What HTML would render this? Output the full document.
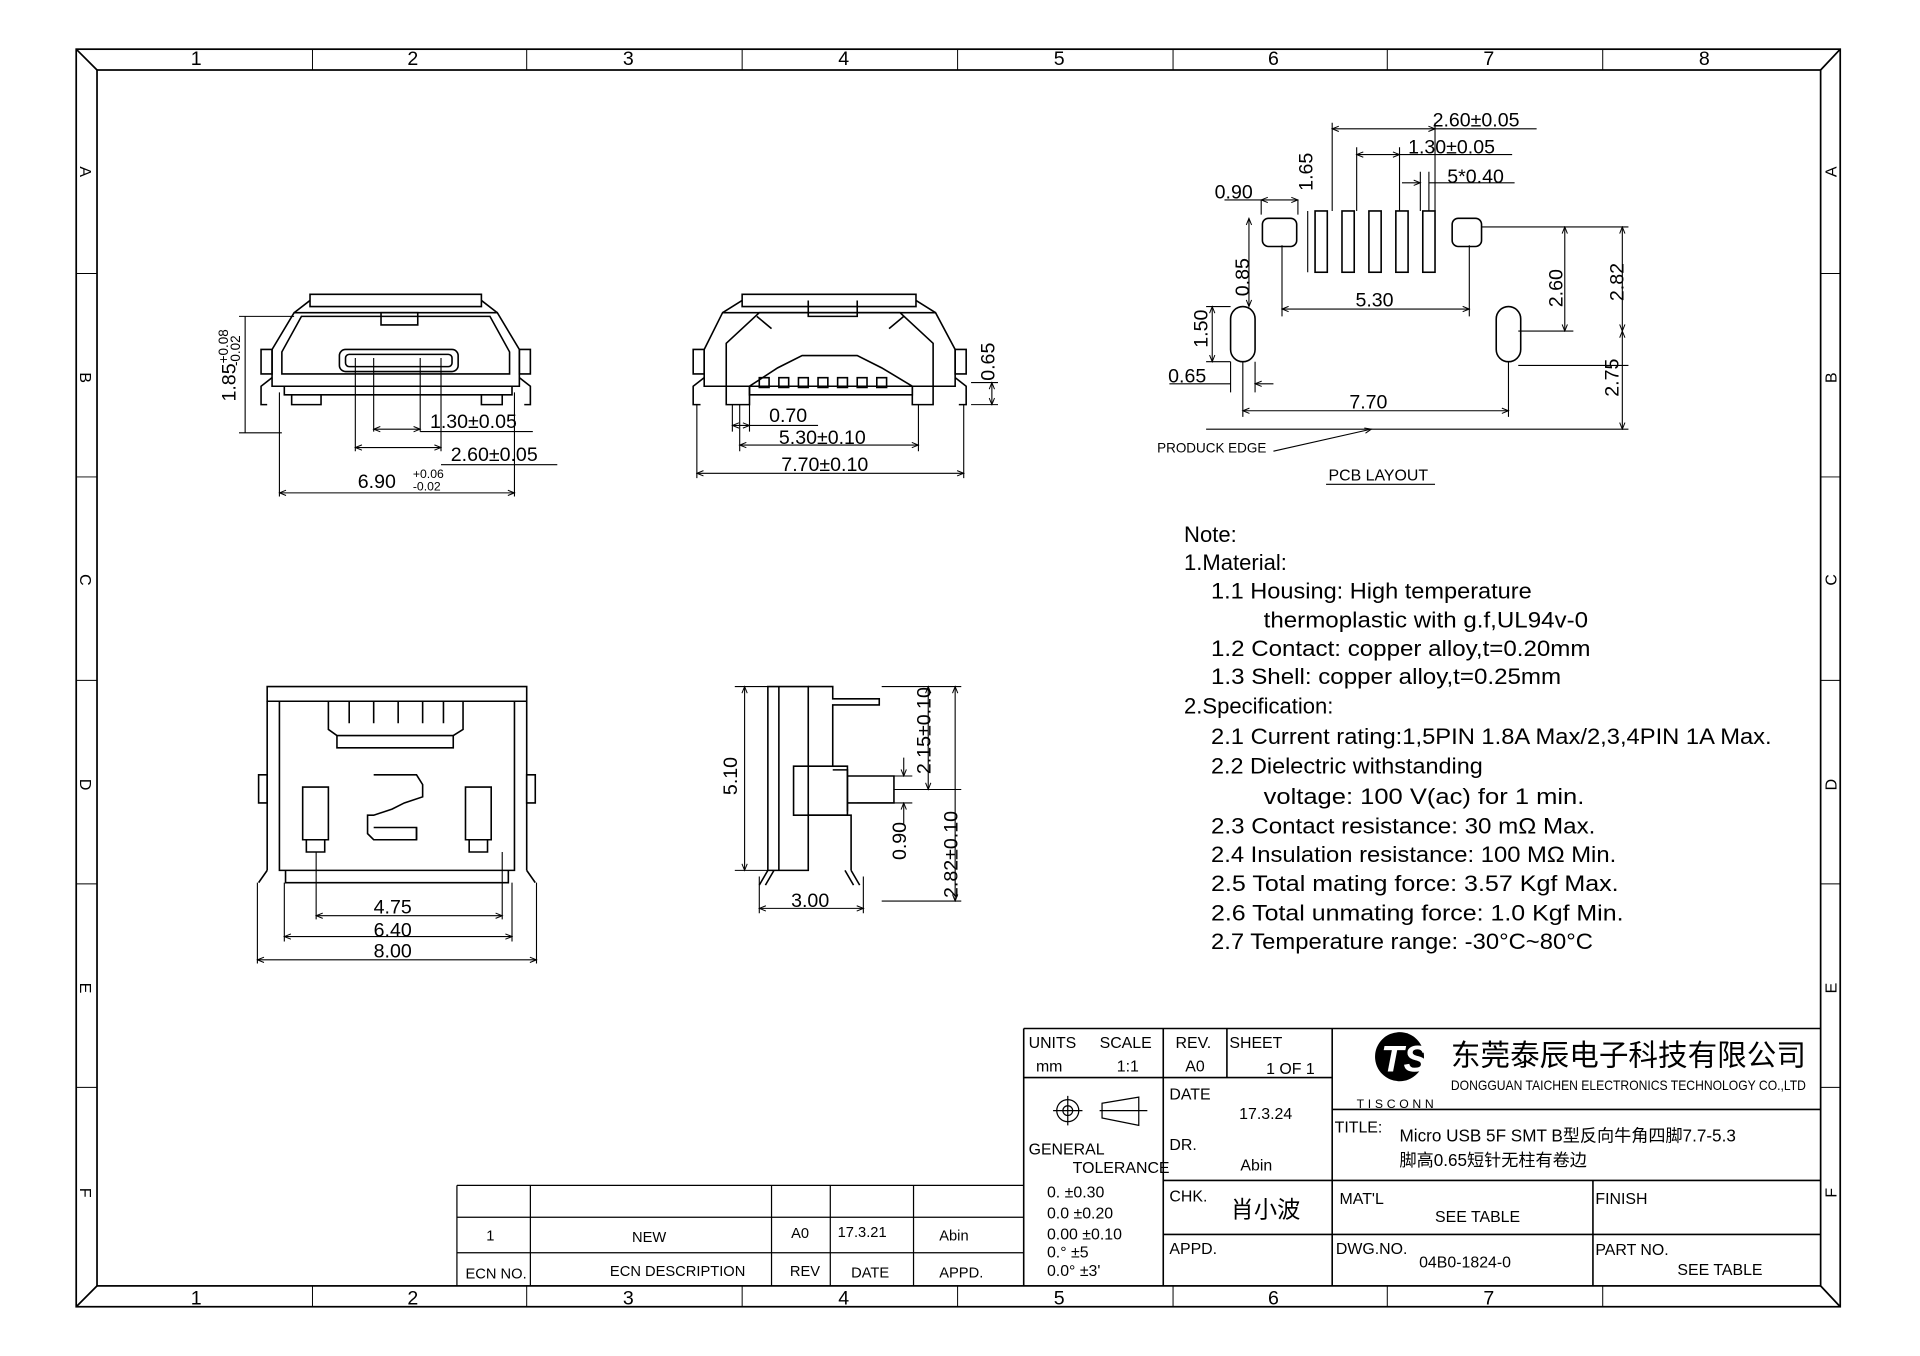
<!DOCTYPE html>
<html><head><meta charset="utf-8"><style>
html,body{margin:0;padding:0;background:#fff}
svg{display:block}
text{font-family:"Liberation Sans","Noto Sans CJK SC",sans-serif;fill:#000}
.t{font-size:16px}
.n{font-size:18px}
.s{font-size:13px}
</style></head><body>
<svg width="1920" height="1356" viewBox="0 0 1562 1103" preserveAspectRatio="none" xmlns="http://www.w3.org/2000/svg">
<defs>
<marker id="a" viewBox="0 0 10 10" refX="10" refY="5" markerWidth="8" markerHeight="6" orient="auto-start-reverse"><path d="M0,1L10,5L0,9" fill="none" stroke="#000" stroke-width="1.5"/></marker>
</defs>
<g transform="translate(62,40) scale(0.9959,0.997) translate(-62,-40)">
<g fill="none" stroke="#000" stroke-width="1.4">
<rect x="62" y="40" width="1441" height="1026"/>
<rect x="79" y="57" width="1408" height="992"/>
<path d="M62,40L79,57M1503,40L1487,57M62,1066L79,1049M1503,1066L1487,1049"/>
</g>
<g stroke="#000" stroke-width="0.8">
<path d="M255,40V57M430,40V57M606,40V57M782,40V57M958,40V57M1133,40V57M1309,40V57"/>
<path d="M255,1049V1066M430,1049V1066M606,1049V1066M782,1049V1066M958,1049V1066M1133,1049V1066M1309,1049V1066"/>
<path d="M62,223H79M62,389H79M62,555H79M62,721H79M62,887H79M1487,223H1503M1487,389H1503M1487,555H1503M1487,721H1503M1487,887H1503"/>
</g>
<g class="t" text-anchor="middle">
<text x="160" y="53">1</text><text x="337" y="53">2</text><text x="513" y="53">3</text><text x="689" y="53">4</text><text x="865" y="53">5</text><text x="1040" y="53">6</text><text x="1216" y="53">7</text><text x="1392" y="53">8</text>
<text x="160" y="1064">1</text><text x="337" y="1064">2</text><text x="513" y="1064">3</text><text x="689" y="1064">4</text><text x="865" y="1064">5</text><text x="1040" y="1064">6</text><text x="1216" y="1064">7</text>
</g>
<g class="s" text-anchor="middle">
<text x="70" y="145" transform="rotate(90 70 140)">A</text><text x="70" y="313" transform="rotate(90 70 308)">B</text><text x="70" y="478" transform="rotate(90 70 473)">C</text><text x="70" y="645" transform="rotate(90 70 640)">D</text><text x="70" y="811" transform="rotate(90 70 806)">E</text><text x="70" y="978" transform="rotate(90 70 973)">F</text>
<text x="1495" y="145" transform="rotate(-90 1495 140)">A</text><text x="1495" y="313" transform="rotate(-90 1495 308)">B</text><text x="1495" y="478" transform="rotate(-90 1495 473)">C</text><text x="1495" y="645" transform="rotate(-90 1495 640)">D</text><text x="1495" y="811" transform="rotate(-90 1495 806)">E</text><text x="1495" y="978" transform="rotate(-90 1495 973)">F</text>
</g>

<!-- Front view 1 -->
<g fill="none" stroke="#000" stroke-width="1.3">
<path d="M253,240H393V250H253Z"/>
<path d="M240,255L253,245M406,255L393,245"/>
<path d="M240,255L222,285V315H424V285L406,255Z"/>
<path d="M246,258L230,287V305H416V287L400,258Z"/>
<path d="M213,285H222V305H213ZM424,285H433V305H424Z"/>
<path d="M232,315V322H418V315M238,322V330H262V322M393,322V330H410V322"/>
<path d="M222,308L213,315V330H218M424,308L433,315V330H428"/>
<rect x="277" y="285" width="97" height="18" rx="5"/>
<rect x="282" y="289" width="87" height="10" rx="3"/>
<path d="M311,255H341V265H311Z"/>
</g>
<g fill="none" stroke="#000" stroke-width="0.9">
<path d="M195,258H240M195,353H230M200,258V353M228,320V405M420,320V405M290,292V368M360,292V368M305,292V352M343,292V352"/>
<path d="M228,402H420" marker-start="url(#a)" marker-end="url(#a)"/>
<path d="M290,365H360" marker-start="url(#a)" marker-end="url(#a)"/>
<path d="M360,379H455"/>
<path d="M305,350H343" marker-start="url(#a)" marker-end="url(#a)"/>
<path d="M343,352H435"/>
</g>
<text class="t" x="200" y="306" transform="rotate(-90 192 306)" text-anchor="middle">1.85<tspan font-size="11" dy="-6">+0.08</tspan><tspan font-size="11" dx="-30" dy="10">-0.02</tspan></text>
<text class="t" x="292" y="398">6.90</text><text x="337" y="390" font-size="10">+0.06</text><text x="337" y="400" font-size="10">-0.02</text>
<text class="t" x="351" y="349">1.30±0.05</text>
<text class="t" x="368" y="376">2.60±0.05</text>

<!-- Front view 2 -->
<g fill="none" stroke="#000" stroke-width="1.3">
<path d="M606,240H748V250H606Z"/>
<path d="M590,255L606,245M764,255L748,245"/>
<path d="M590,255L575,285V315H780V285L764,255Z"/>
<path d="M566,285H575V305H566ZM780,285H789V305H780Z"/>
<path d="M593,280L620,255H735L762,280V330H745V315L720,300L700,290H655L635,300L612,315V330H593Z"/>
<path d="M612,315H745V322H612Z"/>
<path d="M660,245V258H700V245"/>
<path d="M618,258L630,268M738,258L726,268"/>
<path d="M575,308L566,315V330H572M780,308L789,315V330H783"/>
<path d="M620,308h8v8h-8zM636,308h8v8h-8zM652,308h8v8h-8zM668,308h8v8h-8zM684,308h8v8h-8zM700,308h8v8h-8zM716,308h8v8h-8z"/>
</g>
<g fill="none" stroke="#000" stroke-width="0.9">
<path d="M569,330V390M787,330V390M598,330V352M612,330V352M604,330V368M750,330V368M793,312H815M793,330H815"/>
<path d="M569,386H787" marker-start="url(#a)" marker-end="url(#a)"/>
<path d="M604,363H750" marker-start="url(#a)" marker-end="url(#a)"/>
<path d="M598,347H612" marker-start="url(#a)" marker-end="url(#a)"/><path d="M612,347H668"/>
<path d="M810,312V330" marker-start="url(#a)" marker-end="url(#a)"/>
</g>
<text class="t" x="628" y="344">0.70</text>
<text class="t" x="636" y="362">5.30±0.10</text>
<text class="t" x="638" y="384">7.70±0.10</text>
<text class="t" x="812" y="295" transform="rotate(-90 812 295)" text-anchor="middle">0.65</text>

<!-- Bottom view -->
<g fill="none" stroke="#000" stroke-width="1.3">
<path d="M218,560H430V572H218Z"/>
<path d="M228,572V710H420V572"/>
<path d="M218,572V710M430,572V710"/>
<path d="M211,632H218V655H211ZM430,632H437V655H430Z"/>
<path d="M268,572V595L275,600H370L378,595V572"/>
<path d="M285,572V590M305,572V590M325,572V590M345,572V590M362,572V590"/>
<path d="M275,600V610H370V600"/>
<path d="M247,642H268V685H247ZM380,642H401V685H380Z"/>
<path d="M250,685V695H265V685M383,685V695H398V685"/>
<path d="M305,632H340L345,640V650L330,655L320,660L305,665H300V680L305,685H340V675"/>
<path d="M305,675H340V685"/>
<path d="M233,710V720H415V710M218,710L211,720M430,710L437,720"/>
</g>
<g fill="none" stroke="#000" stroke-width="0.9">
<path d="M210,720V786M438,720V786M232,720V768M418,720V768M258,695V750M410,695V750"/>
<path d="M258,747H410" marker-start="url(#a)" marker-end="url(#a)"/>
<path d="M232,764H418" marker-start="url(#a)" marker-end="url(#a)"/>
<path d="M210,783H438" marker-start="url(#a)" marker-end="url(#a)"/>
</g>
<text class="t" x="305" y="745">4.75</text><text class="t" x="305" y="764">6.40</text><text class="t" x="305" y="781">8.00</text>

<!-- Side view -->
<g fill="none" stroke="#000" stroke-width="1.3">
<path d="M627,560H660V710H627Z"/>
<path d="M660,560H680V570H718V575H680V625"/>
<path d="M648,625H692V665H648Z"/>
<path d="M680,628H692V662M692,633H730V655H692"/>
<path d="M660,665H695V710"/>
<path d="M627,710L620,722M695,710L702,722M632,710L625,722M690,710L697,722"/>
<path d="M636,560V710"/>
</g>
<g fill="none" stroke="#000" stroke-width="0.9">
<path d="M600,560H627M600,710H627M620,715V745M705,715V745M720,560H785M730,644H785M720,735H785M700,633H745M700,655H745"/>
<path d="M608,560V710" marker-start="url(#a)" marker-end="url(#a)"/>
<path d="M758,560V644" marker-start="url(#a)" marker-end="url(#a)"/>
<path d="M780,560V735" marker-start="url(#a)" marker-end="url(#a)"/>
<path d="M738,618V633" marker-end="url(#a)"/><path d="M738,672V655" marker-end="url(#a)"/>
<path d="M620,741H705" marker-start="url(#a)" marker-end="url(#a)"/>
</g>
<text class="t" x="602" y="633" transform="rotate(-90 602 633)" text-anchor="middle">5.10</text>
<text class="t" x="760" y="596" transform="rotate(-90 760 596)" text-anchor="middle">2.15±0.10</text>
<text class="t" x="740" y="686" transform="rotate(-90 740 686)" text-anchor="middle">0.90</text>
<text class="t" x="782" y="697" transform="rotate(-90 782 697)" text-anchor="middle">2.82±0.10</text>
<text class="t" x="646" y="740">3.00</text>

<!-- PCB layout -->
<g fill="none" stroke="#000" stroke-width="1.3">
<rect x="1031" y="178" width="28" height="23" rx="5"/>
<rect x="1186" y="178" width="24" height="23" rx="5"/>
<rect x="1074" y="172" width="10" height="50"/><rect x="1096" y="172" width="10" height="50"/><rect x="1118" y="172" width="10" height="50"/><rect x="1140" y="172" width="10" height="50"/><rect x="1162" y="172" width="10" height="50"/>
<rect x="1005" y="250" width="20" height="45" rx="10"/>
<rect x="1222" y="250" width="20" height="45" rx="10"/>
</g>
<g fill="none" stroke="#000" stroke-width="0.9">
<path d="M1088,100V172M1172,100V172M1108,120V172M1143,120V172M1160,140V172M1167,140V172"/>
<path d="M1088,105H1172" marker-start="url(#a)" marker-end="url(#a)"/><path d="M1172,105H1255"/>
<path d="M1108,126H1143" marker-start="url(#a)" marker-end="url(#a)"/><path d="M1143,126H1235"/>
<path d="M1145,149H1160" marker-end="url(#a)"/><path d="M1167,149H1237"/>
<path d="M1030,163V175M1060,163V175M1000,163H1030" /><path d="M1030,163H1060" marker-start="url(#a)" marker-end="url(#a)"/>
<path d="M1068,172V222M1074,172V222"/>
<path d="M1020,178V250" marker-start="url(#a)" marker-end="url(#a)"/>
<path d="M1047,200V258M1200,200V258"/>
<path d="M1047,252H1200" marker-start="url(#a)" marker-end="url(#a)"/>
<path d="M1210,185H1330M1240,270H1285M1240,298H1330"/>
<path d="M1278,185V270" marker-start="url(#a)" marker-end="url(#a)"/>
<path d="M1325,185V270" marker-start="url(#a)" marker-end="url(#a)"/>
<path d="M1325,270V350" marker-start="url(#a)" marker-end="url(#a)"/>
<path d="M985,250H1005M985,295H1005"/><path d="M990,250V295" marker-start="url(#a)" marker-end="url(#a)"/>
<path d="M1005,295V320M1025,295V320M955,313H1005"/><path d="M1025,313H1040" marker-start="url(#a)"/>
<path d="M1015,295V340M1232,295V340"/><path d="M1015,335H1232" marker-start="url(#a)" marker-end="url(#a)"/>
<path d="M985,350H1330"/>
<path d="M1040,368L1120,350" marker-end="url(#a)"/>
<path d="M1083,395H1172"/>
</g>
<text class="t" x="1170" y="103">2.60±0.05</text>
<text class="t" x="1150" y="125">1.30±0.05</text>
<text class="t" x="1182" y="149">5*0.40</text>
<text class="t" x="992" y="162">0.90</text>
<text class="t" x="1072" y="140" transform="rotate(-90 1072 140)" text-anchor="middle">1.65</text>
<text class="t" x="1020" y="226" transform="rotate(-90 1020 226)" text-anchor="middle">0.85</text>
<text class="t" x="1107" y="250">5.30</text>
<text class="t" x="1276" y="235" transform="rotate(-90 1276 235)" text-anchor="middle">2.60</text>
<text class="t" x="1326" y="230" transform="rotate(-90 1326 230)" text-anchor="middle">2.82</text>
<text class="t" x="986" y="268" transform="rotate(-90 986 268)" text-anchor="middle">1.50</text>
<text class="t" x="954" y="312">0.65</text>
<text class="t" x="1102" y="333">7.70</text>
<text class="t" x="1322" y="308" transform="rotate(-90 1322 308)" text-anchor="middle">2.75</text>
<text x="945" y="369" font-size="11">PRODUCK EDGE</text>
<text x="1085" y="392" font-size="13">PCB LAYOUT</text>

<!-- Notes -->
<g class="n">
<text x="967" y="442">Note:</text>
<text x="967" y="465">1.Material:</text>
<text x="989" y="488" textLength="262" lengthAdjust="spacingAndGlyphs">1.1  Housing: High temperature</text>
<text x="1032" y="512" textLength="265" lengthAdjust="spacingAndGlyphs">thermoplastic with g.f,UL94v-0</text>
<text x="989" y="535" textLength="310" lengthAdjust="spacingAndGlyphs">1.2  Contact: copper alloy,t=0.20mm</text>
<text x="989" y="558" textLength="286" lengthAdjust="spacingAndGlyphs">1.3  Shell: copper alloy,t=0.25mm</text>
<text x="967" y="582">2.Specification:</text>
<text x="989" y="607" textLength="458" lengthAdjust="spacingAndGlyphs">2.1  Current rating:1,5PIN 1.8A Max/2,3,4PIN 1A Max.</text>
<text x="989" y="631" textLength="222" lengthAdjust="spacingAndGlyphs">2.2  Dielectric withstanding</text>
<text x="1032" y="656" textLength="262" lengthAdjust="spacingAndGlyphs">voltage: 100 V(ac) for 1 min.</text>
<text x="989" y="680" textLength="314" lengthAdjust="spacingAndGlyphs">2.3  Contact resistance: 30 mΩ Max.</text>
<text x="989" y="703" textLength="331" lengthAdjust="spacingAndGlyphs">2.4  Insulation resistance: 100 MΩ Min.</text>
<text x="989" y="727" textLength="333" lengthAdjust="spacingAndGlyphs">2.5  Total mating force: 3.57 Kgf Max.</text>
<text x="989" y="751" textLength="337" lengthAdjust="spacingAndGlyphs">2.6  Total unmating force: 1.0 Kgf Min.</text>
<text x="989" y="774" textLength="312" lengthAdjust="spacingAndGlyphs">2.7  Temperature range: -30°C~80°C</text>
</g>

<!-- Revision table -->
<g fill="none" stroke="#000" stroke-width="1">
<path d="M373,967H836M373,993H836M373,1022H836M373,967V1049M433,967V1049M630,967V1049M678,967V1049M746,967V1049"/>
</g>
<g font-size="12">
<text x="397" y="1012">1</text><text x="516" y="1013">NEW</text><text x="646" y="1010">A0</text><text x="684" y="1009">17.3.21</text><text x="767" y="1012">Abin</text>
<text x="380" y="1043">ECN NO.</text><text x="498" y="1041">ECN  DESCRIPTION</text><text x="645" y="1041">REV</text><text x="695" y="1042">DATE</text><text x="767" y="1042">APPD.</text>
</g>

<!-- Title block -->
<g fill="none" stroke="#000" stroke-width="1.3">
<path d="M836,839H1487M836,839V1049M950,839V1049M1002,839V879M1088,839V1049M1301,963V1049"/>
<path d="M836,879H1088M1088,905H1487M950,963H1487M950,1007H1487"/>
</g>
<g font-size="13">
<text x="840" y="855">UNITS</text><text x="898" y="855">SCALE</text><text x="846" y="874">mm</text><text x="912" y="874">1:1</text>
<text x="960" y="855">REV.</text><text x="968" y="874">A0</text><text x="1004" y="855">SHEET</text><text x="1034" y="876">1 OF 1</text>
<text x="955" y="897">DATE</text><text x="1012" y="913">17.3.24</text>
<text x="955" y="938">DR.</text><text x="1013" y="955">Abin</text>
<text x="840" y="942">GENERAL</text><text x="876" y="957">TOLERANCE</text>
<text x="855" y="977">0.    ±0.30</text><text x="855" y="994">0.0   ±0.20</text><text x="855" y="1011">0.00 ±0.10</text><text x="855" y="1026">0.°   ±5</text><text x="855" y="1041">0.0°  ±3'</text>
<text x="955" y="980">CHK.</text><text x="955" y="1023">APPD.</text>
<text x="1094" y="982">MAT'L</text><text x="1172" y="997">SEE TABLE</text>
<text x="1303" y="982">FINISH</text>
<text x="1091" y="1023">DWG.NO.</text><text x="1159" y="1034">04B0-1824-0</text>
<text x="1303" y="1024">PART NO.</text><text x="1370" y="1040">SEE TABLE</text>
<text x="1090" y="924">TITLE:</text>
</g>
<text x="1005" y="993" font-size="19" font-family="Noto Serif CJK SC,serif">肖小波</text>
<g fill="none" stroke="#000" stroke-width="1">
<circle cx="872" cy="906" r="9"/><circle cx="872" cy="906" r="4"/><path d="M860,906H884M872,894V918"/>
<path d="M898,906H937M900,900L930,895V918L900,912Z"/>
</g>
<g font-family="Noto Serif CJK SC,serif" font-size="14">
<text x="1143" y="931">Micro USB 5F SMT B型反向牛角四脚7.7-5.3</text>
<text x="1143" y="951">脚高0.65短针无柱有卷边</text>
</g>
<circle cx="1143" cy="862" r="20" fill="#000"/>
<text x="1128" y="874" font-size="30" font-style="italic" font-weight="bold" style="fill:#fff">TS</text>
<text x="1108" y="904" font-size="10" letter-spacing="3">TISCONN</text>
<text x="1185" y="869" font-size="24" textLength="290" lengthAdjust="spacingAndGlyphs">东莞泰辰电子科技有限公司</text>
<text x="1185" y="889" font-size="11" textLength="290" lengthAdjust="spacingAndGlyphs">DONGGUAN TAICHEN ELECTRONICS TECHNOLOGY CO.,LTD</text>
</g>
</svg>
</body></html>
